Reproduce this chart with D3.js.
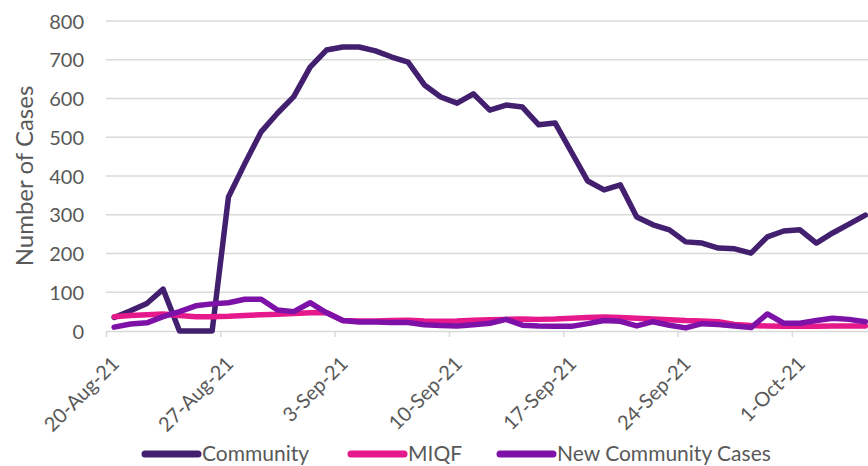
<!DOCTYPE html>
<html>
<head>
<meta charset="utf-8">
<script src="https://cdnjs.cloudflare.com/ajax/libs/d3/7.8.5/d3.min.js"></script>
<style>
  html, body { margin: 0; padding: 0; background: #fff; overflow: hidden; }
  svg { display: block; }
  text { font-family: Lato, "Open Sans", sans-serif; fill: #595959; }
</style>
</head>
<body>
<svg id="chart" width="868" height="466"></svg>
<script>
// ---- data ----
const startDate = "2021-08-20";
const dates = [
  "2021-08-20","2021-08-21","2021-08-22","2021-08-23","2021-08-24","2021-08-25","2021-08-26",
  "2021-08-27","2021-08-28","2021-08-29","2021-08-30","2021-08-31","2021-09-01","2021-09-02",
  "2021-09-03","2021-09-04","2021-09-05","2021-09-06","2021-09-07","2021-09-08","2021-09-09",
  "2021-09-10","2021-09-11","2021-09-12","2021-09-13","2021-09-14","2021-09-15","2021-09-16",
  "2021-09-17","2021-09-18","2021-09-19","2021-09-20","2021-09-21","2021-09-22","2021-09-23",
  "2021-09-24","2021-09-25","2021-09-26","2021-09-27","2021-09-28","2021-09-29","2021-09-30",
  "2021-10-01","2021-10-02","2021-10-03","2021-10-04","2021-10-05"
];
const community = [
  35, 52, 71, 108, 0, 0, 0,
  346, 432, 514, 562, 605, 681, 725,
  733, 733, 723, 707, 694, 635, 604,
  588, 612, 570, 583, 578, 532, 537,
  462, 387, 364, 377, 294, 274, 261,
  230, 227, 214, 212, 201, 243, 258,
  261, 227, 253, 276, 299
];
const miqf = [
  37, 40, 42, 44, 40, 37, 37,
  38, 40, 42, 43, 45, 47, 48,
  27, 26, 26, 27, 28, 26, 25,
  26, 28, 29, 30, 31, 30, 31,
  33, 35, 36, 35, 33, 31, 29,
  27, 26, 24, 17, 14, 13, 12,
  12, 12, 13, 13, 13
];
const newCommunity = [
  10, 18, 21, 37, 50, 65, 70,
  73, 82, 82, 54, 50, 73, 47,
  27, 23, 23, 22, 22, 16, 14,
  13, 16, 20, 30, 15, 13, 12,
  12, 19, 27, 25, 13, 24, 15,
  8, 19, 17, 13, 9, 44, 20,
  20, 27, 33, 30, 24
];
const yTicks = [0, 100, 200, 300, 400, 500, 600, 700, 800];
const xTickDates = ["2021-08-20","2021-08-27","2021-09-03","2021-09-10","2021-09-17","2021-09-24","2021-10-01"];
const seriesNames = ["Community", "MIQF", "New Community Cases"];
const seriesColors = ["#43206f", "#e6198c", "#7e12a8"];
const yTitle = "Number of Cases";

// ---- layout ----
const svg = d3.select("#chart");
const parse = d3.utcParse("%Y-%m-%d");
const dayMs = 864e5;
const left = 106, plotTop = 21, plotBottom = 331;
const pxPerDay = 16.33;
const x0 = parse(startDate);
const xEnd = new Date(x0.getTime() + 50 * dayMs);
const x = d3.scaleUtc().domain([x0, xEnd]).range([left, left + 50 * pxPerDay]);
const y = d3.scaleLinear().domain([0, 800]).range([plotBottom, plotTop]);

// gridlines
svg.append("g").selectAll("line").data(yTicks.filter(d => d > 0)).join("line")
  .attr("x1", left).attr("x2", 868)
  .attr("y1", d => y(d)).attr("y2", d => y(d))
  .attr("stroke", "#d9d9d9").attr("stroke-width", 1.5);

// y axis labels
const yAxis = d3.axisLeft(y).tickValues(yTicks).tickSize(0).tickPadding(0);
const gy = svg.append("g").attr("transform", `translate(${left - 22},0)`).call(yAxis);
gy.select(".domain").remove();
gy.selectAll("text").style("font-size", "20px").style("font-family", "Lato, sans-serif")
  .attr("fill", "#595959").attr("dy", "0.36em");

// x axis
const xAxis = d3.axisBottom(x).tickValues(xTickDates.map(parse))
  .tickFormat(d3.utcFormat("%-d-%b-%y")).tickSize(6).tickSizeOuter(0);
const gx = svg.append("g").attr("transform", `translate(0,${plotBottom})`).call(xAxis);
gx.select(".domain").attr("stroke", "#d9d9d9").attr("stroke-width", 1.5);
gx.selectAll(".tick line").attr("stroke", "#d9d9d9").attr("stroke-width", 1.5);
gx.selectAll("text")
  .style("font-size", "20px").style("font-family", "Lato, sans-serif")
  .attr("fill", "#595959")
  .attr("text-anchor", "end")
  .attr("dy", "0")
  .attr("y", 0)
  .attr("transform", "translate(14,34) rotate(-45)");

// y title
svg.append("text")
  .attr("transform", "translate(33,176) rotate(-90)")
  .attr("text-anchor", "middle")
  .style("font-size", "24px")
  .text(yTitle);

// lines
const pointX = d => x(new Date(parse(d).getTime() + dayMs / 2));
const allSeries = [community, miqf, newCommunity];
const line = d3.line().x((d, i) => pointX(dates[i])).y(d => y(d));
allSeries.forEach((vals, k) => {
  svg.append("path").datum(vals)
    .attr("d", line)
    .attr("fill", "none")
    .attr("stroke", seriesColors[k])
    .attr("stroke-width", 5.5)
    .attr("stroke-linejoin", "round")
    .attr("stroke-linecap", "round");
});

// legend
const legendItems = [
  { name: seriesNames[0], color: seriesColors[0], x: 142 },
  { name: seriesNames[1], color: seriesColors[1], x: 348 },
  { name: seriesNames[2], color: seriesColors[2], x: 497 }
];
const lg = svg.append("g");
legendItems.forEach(it => {
  lg.append("line").attr("x1", it.x + 3).attr("x2", it.x + 56).attr("y1", 454).attr("y2", 454)
    .attr("stroke", it.color).attr("stroke-width", 7).attr("stroke-linecap", "round");
  lg.append("text").attr("x", it.x + 60).attr("y", 453).attr("dy", "0.36em")
    .style("font-size", "21px").text(it.name);
});
</script>
</body>
</html>
